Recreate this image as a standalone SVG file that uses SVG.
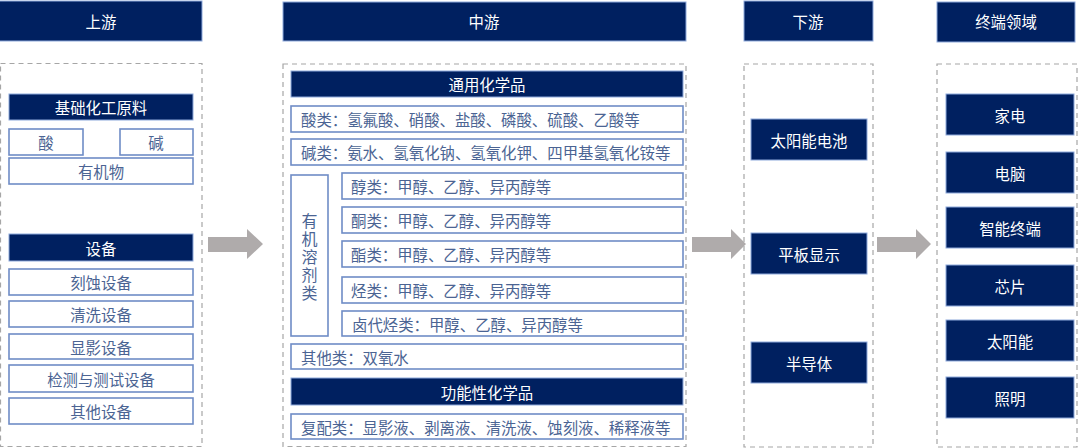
<svg xmlns="http://www.w3.org/2000/svg" width="1080" height="448" viewBox="0 0 1080 448">
<style>
text{font-family:"Noto Sans CJK SC","Noto Sans",sans-serif;font-size:15.4px;dominant-baseline:central}
.dk{fill:#002060;stroke:#8EA9DB;stroke-width:1}
.lt{fill:#ffffff;stroke:#6F8CC6;stroke-width:1.6}
.dash{fill:none;stroke:#A6A6A6;stroke-width:1.2;stroke-dasharray:5 4}
.wt{fill:#ffffff;text-anchor:middle}
.bt{fill:#4B6493;text-anchor:middle}
.bl{fill:#4B6493;text-anchor:start}
.arr{fill:#AFABAB}
</style>
<rect width="1080" height="448" fill="#ffffff"/>
<g id="headers">
<g id="h-up"><rect class="dk" x="-1" y="1" width="203" height="40"/><text class="wt" x="101" y="21">上游</text></g>
<g id="h-mid"><rect class="dk" x="283" y="2" width="403" height="39"/><text class="wt" x="484" y="21">中游</text></g>
<g id="h-down"><rect class="dk" x="744" y="1" width="129" height="40"/><text class="wt" x="808" y="21">下游</text></g>
<g id="h-end"><rect class="dk" x="937" y="2" width="138" height="40"/><text class="wt" x="1006" y="21">终端领域</text></g>
</g>
<g id="frames">
<rect class="dash" x="0.5" y="63.5" width="201.5" height="383"/>
<rect class="dash" x="283" y="64" width="403" height="382.5"/>
<rect class="dash" x="744" y="64" width="129" height="383"/>
<rect class="dash" x="937" y="64" width="140" height="383"/>
</g>
<g id="upstream">
<g id="n-base"><rect class="dk" x="9" y="94" width="184" height="26"/><text class="wt" x="101" y="107">基础化工原料</text></g>
<g id="n-acid"><rect class="lt" x="9" y="129" width="74" height="26"/><text class="bt" x="46" y="142">酸</text></g>
<g id="n-base2"><rect class="lt" x="120" y="129" width="73" height="26"/><text class="bt" x="156" y="142">碱</text></g>
<g id="n-org"><rect class="lt" x="9" y="158" width="184" height="26"/><text class="bt" x="101" y="171">有机物</text></g>
<g id="n-equip"><rect class="dk" x="9" y="234" width="184" height="27"/><text class="wt" x="101" y="247.5">设备</text></g>
<g id="n-etch"><rect class="lt" x="9" y="269" width="184" height="26"/><text class="bt" x="101" y="282">刻蚀设备</text></g>
<g id="n-clean"><rect class="lt" x="9" y="301" width="184" height="26"/><text class="bt" x="101" y="314">清洗设备</text></g>
<g id="n-dev"><rect class="lt" x="9" y="334" width="184" height="25"/><text class="bt" x="101" y="346.5">显影设备</text></g>
<g id="n-test"><rect class="lt" x="9" y="365" width="184" height="27"/><text class="bt" x="101" y="378.5">检测与测试设备</text></g>
<g id="n-other"><rect class="lt" x="9" y="398" width="184" height="26"/><text class="bt" x="101" y="411">其他设备</text></g>
</g>
<g id="midstream">
<g id="n-general"><rect class="dk" x="291" y="71" width="392" height="26"/><text class="wt" x="487" y="84">通用化学品</text></g>
<g id="n-acids"><rect class="lt" x="291" y="106" width="392" height="26"/><text class="bl" x="301" y="119">酸类：氢氟酸、硝酸、盐酸、磷酸、硫酸、乙酸等</text></g>
<g id="n-bases"><rect class="lt" x="291" y="139" width="392" height="26"/><text class="bl" x="301" y="152">碱类：氨水、氢氧化钠、氢氧化钾、四甲基氢氧化铵等</text></g>
<g id="n-solv"><rect class="lt" x="291" y="175" width="37" height="161"/>
<text class="bt" x="309.5" font-size="16" style="font-size:16px"><tspan x="309.5" y="220">有</tspan><tspan x="309.5" y="238">机</tspan><tspan x="309.5" y="256">溶</tspan><tspan x="309.5" y="274">剂</tspan><tspan x="309.5" y="292">类</tspan></text></g>
<g id="n-alc"><rect class="lt" x="342" y="173" width="341" height="26"/><text class="bl" x="351" y="186">醇类：甲醇、乙醇、异丙醇等</text></g>
<g id="n-ket"><rect class="lt" x="342" y="207" width="341" height="26"/><text class="bl" x="351" y="220">酮类：甲醇、乙醇、异丙醇等</text></g>
<g id="n-est"><rect class="lt" x="342" y="241" width="341" height="26"/><text class="bl" x="351" y="254">酯类：甲醇、乙醇、异丙醇等</text></g>
<g id="n-hyd"><rect class="lt" x="342" y="277" width="341" height="26"/><text class="bl" x="351" y="290">烃类：甲醇、乙醇、异丙醇等</text></g>
<g id="n-hal"><rect class="lt" x="342" y="311" width="341" height="25"/><text class="bl" x="352" y="323.5">卤代烃类：甲醇、乙醇、异丙醇等</text></g>
<g id="n-oth"><rect class="lt" x="291" y="344" width="392" height="25"/><text class="bl" x="301" y="356.5">其他类：双氧水</text></g>
<g id="n-func"><rect class="dk" x="291" y="378" width="392" height="27"/><text class="wt" x="487" y="391.5">功能性化学品</text></g>
<g id="n-mix"><rect class="lt" x="291" y="414" width="392" height="25"/><text class="bl" x="301" y="426.5">复配类：显影液、剥离液、清洗液、蚀刻液、稀释液等</text></g>
</g>
<g id="downstream">
<g id="n-solar"><rect class="dk" x="751" y="119" width="116" height="41"/><text class="wt" x="809" y="139.5">太阳能电池</text></g>
<g id="n-fpd"><rect class="dk" x="751" y="233" width="116" height="41"/><text class="wt" x="809" y="253.5">平板显示</text></g>
<g id="n-semi"><rect class="dk" x="751" y="342" width="116" height="41"/><text class="wt" x="809" y="362.5">半导体</text></g>
</g>
<g id="terminal">
<g id="n-home"><rect class="dk" x="946" y="94" width="128" height="41"/><text class="wt" x="1010" y="114.5">家电</text></g>
<g id="n-pc"><rect class="dk" x="946" y="152" width="128" height="41"/><text class="wt" x="1010" y="172.5">电脑</text></g>
<g id="n-smart"><rect class="dk" x="946" y="207" width="128" height="41"/><text class="wt" x="1010" y="227.5">智能终端</text></g>
<g id="n-chip"><rect class="dk" x="946" y="265" width="128" height="41"/><text class="wt" x="1010" y="285.5">芯片</text></g>
<g id="n-pv"><rect class="dk" x="946" y="320" width="128" height="41"/><text class="wt" x="1010" y="340.5">太阳能</text></g>
<g id="n-light"><rect class="dk" x="946" y="377" width="128" height="41"/><text class="wt" x="1010" y="397.5">照明</text></g>
</g>
<g id="connectors">
<polygon class="arr" points="208,237 247,237 247,229 263,244 247,259 247,252 208,252"/>
<polygon class="arr" points="692,237 731,237 731,229 746,244 731,259 731,252 692,252"/>
<polygon class="arr" points="877,237 916,237 916,229 931,244 916,259 916,252 877,252"/>
</g>
</svg>
